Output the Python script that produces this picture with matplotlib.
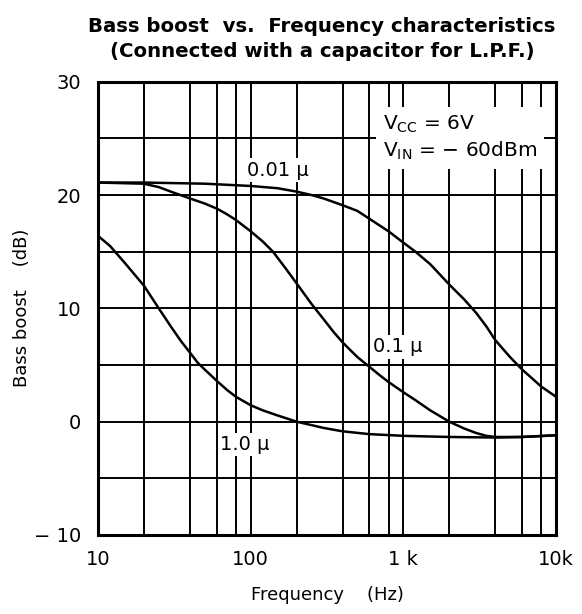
import matplotlib
matplotlib.use('Agg')
import matplotlib.pyplot as plt

plt.rcParams['font.family'] = ['DejaVu Sans']
plt.rcParams['mathtext.fontset'] = 'dejavusans'

# ---- data ----
freq_001 = [10, 20, 50, 100, 150, 200, 250, 300, 400, 500, 600, 800, 1000, 1200, 1500,
            2000, 2500, 3000, 3500, 4000, 5000, 6000, 7000, 8000, 10000]
boost_001 = [21.1, 21.1, 21.0, 20.8, 20.6, 20.3, 20.0, 19.7, 19.1, 18.6, 17.9, 16.8, 15.8, 15.0, 13.9,
             12.1, 10.8, 9.6, 8.4, 7.2, 5.7, 4.6, 3.8, 3.1, 2.2]

freq_01 = [10, 20, 25, 30, 40, 50, 60, 70, 80, 100, 120, 140, 170, 200, 250, 300, 350, 400,
           500, 580, 700, 800, 1000, 1200, 1500, 2000, 2500, 3000, 3500, 4000, 6000, 10000]
boost_01 = [21.1, 21.0, 20.7, 20.3, 19.7, 19.25, 18.8, 18.3, 17.8, 16.8, 15.9, 15.0, 13.5, 12.2, 10.4, 9.05, 7.9, 7.0,
            5.7, 5.0, 4.1, 3.5, 2.6, 1.9, 1.0, 0.0, -0.6, -1.0, -1.25, -1.35, -1.35, -1.2]

freq_10 = [10, 12, 15, 20, 25, 30, 35, 40, 45, 50, 60, 70, 80, 100, 120, 150, 200, 300, 400,
           600, 1000, 2000, 4000, 6000, 10000]
boost_10 = [16.4, 15.5, 14.0, 12.0, 10.0, 8.4, 7.1, 6.1, 5.2, 4.6, 3.6, 2.8, 2.2, 1.45, 1.0, 0.55, 0.0, -0.55, -0.85,
            -1.1, -1.25, -1.35, -1.4, -1.35, -1.2]

x_ticks = [10, 100, 1000, 10000]
x_ticklabels = ['10', '100', '1 k', '10k']
x_minor = [20, 40, 60, 80, 200, 400, 600, 800, 2000, 4000, 6000, 8000]
y_ticks = [-10, 0, 10, 20, 30]
y_ticklabels = ['\u2212 10', '0', '10', '20', '30']
y_grid = [-5, 5, 15, 25]

title_1 = 'Bass boost  vs.  Frequency characteristics'
title_2 = '(Connected with a capacitor for L.P.F.)'

# ---- figure ----
fig = plt.figure(figsize=(5.82, 6.14), dpi=100)
ax = fig.add_axes([98 / 582, 1 - 535 / 614, 458 / 582, (535 - 81.7) / 614])

ax.set_xscale('log')
ax.set_xlim(10, 10000)
ax.set_ylim(-10, 30)

ax.set_xticks(x_ticks)
ax.set_xticklabels(x_ticklabels)
ax.set_xticks(x_minor, minor=True)
ax.set_xticklabels([], minor=True)
ax.set_yticks(y_ticks)
ax.set_yticklabels(y_ticklabels)
ax.set_yticks(y_grid, minor=True)
ax.tick_params(axis='both', which='both', length=0)
ax.tick_params(axis='y', pad=12, labelsize=14)
ax.tick_params(axis='x', pad=11, labelsize=14)

ax.grid(True, which='both', color='black', linewidth=1.4)
ax.set_axisbelow(True)
for s in ax.spines.values():
    s.set_linewidth(2.2)
    s.set_color('black')

ax.plot(freq_001, boost_001, color='black', lw=1.8, zorder=3)
ax.plot(freq_01, boost_01, color='black', lw=1.8, zorder=3)
ax.plot(freq_10, boost_10, color='black', lw=1.8, zorder=3)

box = dict(facecolor='white', edgecolor='none', pad=1.5)
ax.text(94.6, 22.2, '0.01 \u03bc', fontsize=14, ha='left', va='center', bbox=box, zorder=4)
ax.text(632, 6.6, '0.1 \u03bc', fontsize=14, ha='left', va='center', bbox=box, zorder=4)
ax.text(63, -2.0, '1.0 \u03bc', fontsize=14, ha='left', va='center', bbox=box, zorder=4)

ax.text(734, 25.05,
        'V$_{\\mathregular{CC}}$ = 6V\nV$_{\\mathregular{IN}}$ = \u2212 60dBm',
        fontsize=14.5, ha='left', va='center', linespacing=1.3,
        bbox=dict(facecolor='white', edgecolor='none', pad=5), zorder=4)

ax.set_xlabel('Frequency    (Hz)', fontsize=13, labelpad=12)
fig.text(22 / 582, 1 - 308 / 614, 'Bass boost    (dB)', rotation=90,
         fontsize=13, ha='center', va='center')

fig.text(322 / 582, 1 - 32 / 614, title_1, fontsize=14.2, fontweight='bold',
         ha='center', va='baseline')
fig.text(322 / 582, 1 - 57 / 614, title_2, fontsize=14.2, fontweight='bold',
         ha='center', va='baseline')

fig.savefig('out.png', dpi=100, facecolor='white')
